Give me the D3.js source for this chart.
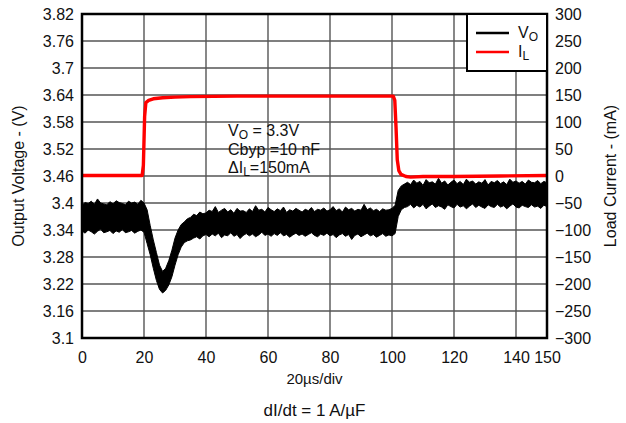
<!DOCTYPE html>
<html>
<head>
  <meta charset="utf-8">
  <script src="https://d3js.org/d3.v7.min.js"></script>
  <style>
    body { margin: 0; background: #fff; font-family: Arial, 'Liberation Sans', sans-serif; }
  </style>
</head>
<body>
<div id="my_dataviz"></div>
<script>
// ---- data ----
var xTicks = [0, 20, 40, 60, 80, 100, 120, 140, 150];
var voltTicks = [3.1, 3.16, 3.22, 3.28, 3.34, 3.4, 3.46, 3.52, 3.58, 3.64, 3.7, 3.76, 3.82];
var voltLabels = ["3.1", "3.16", "3.22", "3.28", "3.34", "3.4", "3.46", "3.52", "3.58", "3.64", "3.7", "3.76", "3.82"];
var currTicks = [-300, -250, -200, -150, -100, -50, 0, 50, 100, 150, 200, 250, 300];

// V_O noise envelope, one sample per microsecond (t = 0 .. 150)
var voUpper = [
  3.395, 3.401, 3.399, 3.404, 3.397, 3.409, 3.400, 3.398, 3.396, 3.403,
  3.398, 3.405, 3.401, 3.399, 3.396, 3.404, 3.400, 3.402, 3.397, 3.406,
  3.400, 3.385, 3.350, 3.318, 3.290, 3.262, 3.248, 3.255, 3.272, 3.295,
  3.322, 3.340, 3.352, 3.358, 3.365, 3.368, 3.375, 3.372, 3.380, 3.376,
  3.378, 3.384, 3.381, 3.392, 3.379, 3.384, 3.388, 3.380, 3.385, 3.377,
  3.388, 3.382, 3.383, 3.379, 3.387, 3.381, 3.394, 3.384, 3.386, 3.380,
  3.390, 3.385, 3.381, 3.387, 3.383, 3.391, 3.379, 3.385, 3.382, 3.388,
  3.384, 3.380, 3.386, 3.383, 3.390, 3.381, 3.386, 3.384, 3.389, 3.382,
  3.385, 3.392, 3.383, 3.387, 3.380, 3.391, 3.385, 3.388, 3.382, 3.386,
  3.384, 3.397, 3.385, 3.389, 3.383, 3.386, 3.381, 3.387, 3.384, 3.385,
  3.388, 3.395, 3.428, 3.438, 3.442,
  3.446, 3.441, 3.451, 3.444, 3.448, 3.439, 3.452, 3.445, 3.447, 3.442,
  3.455, 3.444, 3.449, 3.440, 3.446, 3.451, 3.443, 3.448, 3.441, 3.453,
  3.446, 3.449, 3.442, 3.447, 3.444, 3.452, 3.440, 3.448, 3.445, 3.450,
  3.443, 3.447, 3.441, 3.453, 3.446, 3.449, 3.444, 3.448, 3.442, 3.451,
  3.446, 3.445, 3.450, 3.443, 3.448, 3.445
];
var voLower = [
  3.338, 3.333, 3.340, 3.336, 3.331, 3.337, 3.342, 3.334, 3.336, 3.339,
  3.332, 3.338, 3.335, 3.341, 3.334, 3.336, 3.339, 3.333, 3.337, 3.340,
  3.335, 3.310, 3.285, 3.255, 3.228, 3.208, 3.200, 3.206, 3.218, 3.236,
  3.262, 3.285, 3.302, 3.312, 3.316, 3.318, 3.322, 3.325, 3.320, 3.327,
  3.330, 3.325, 3.331, 3.327, 3.333, 3.323, 3.329, 3.327, 3.334, 3.326,
  3.330, 3.321, 3.328, 3.332, 3.327, 3.331, 3.325, 3.329, 3.335, 3.328,
  3.331, 3.326, 3.332, 3.328, 3.334, 3.327, 3.330, 3.324, 3.329, 3.333,
  3.328, 3.331, 3.326, 3.330, 3.334, 3.328, 3.325, 3.331, 3.328, 3.333,
  3.327, 3.330, 3.323, 3.329, 3.332, 3.326, 3.330, 3.319, 3.328, 3.331,
  3.325, 3.329, 3.333, 3.327, 3.330, 3.324, 3.328, 3.332, 3.326, 3.329,
  3.327, 3.332, 3.370, 3.385, 3.390,
  3.392, 3.397, 3.389, 3.395, 3.391, 3.397, 3.387, 3.393, 3.398, 3.390,
  3.394, 3.391, 3.386, 3.396, 3.392, 3.389, 3.397, 3.391, 3.394, 3.387,
  3.393, 3.398, 3.390, 3.395, 3.391, 3.388, 3.396, 3.392, 3.390, 3.397,
  3.391, 3.394, 3.387, 3.393, 3.398, 3.391, 3.389, 3.395, 3.392, 3.390,
  3.396, 3.391, 3.393, 3.388, 3.395, 3.392
];

// I_L trace (time in us, current in mA)
var ilTime = [0, 10, 19.4, 19.8, 20.2, 20.6, 21.5, 23, 26, 30, 35, 50, 70, 90, 100.4,
              100.9, 101.3, 101.7, 102.2, 102.9, 104.5, 106, 110, 120, 135, 150];
var ilCurrent = [1, 1, 1, 20, 110, 136, 140, 143, 145, 146, 147, 148, 148, 148, 148,
                 140, 90, 30, 10, 3, -1, -2, -1, -1, 0, 1];

// ---- layout ----
var margin = {top: 14, right: 79, bottom: 85, left: 82},
    width = 626 - margin.left - margin.right,
    height = 423 - margin.top - margin.bottom;

var root = d3.select("#my_dataviz")
  .append("svg")
  .attr("width", 626)
  .attr("height", 423);

var svg = root.append("g")
  .attr("transform", "translate(" + margin.left + "," + margin.top + ")");

var x = d3.scaleLinear().domain([0, 150]).range([0, width]);
var yV = d3.scaleLinear().domain([3.1, 3.82]).range([height, 0]);
var yI = d3.scaleLinear().domain([-300, 300]).range([height, 0]);

// grid
svg.append("g")
  .selectAll("line.vg")
  .data(xTicks.filter(function (d) { return d > 0 && d < 150; }))
  .enter().append("line")
  .attr("x1", function (d) { return x(d); })
  .attr("x2", function (d) { return x(d); })
  .attr("y1", 0).attr("y2", height)
  .attr("stroke", "#555").attr("stroke-width", 1.4);

svg.append("g")
  .selectAll("line.hg")
  .data(voltTicks.slice(1, -1))
  .enter().append("line")
  .attr("x1", 0).attr("x2", width)
  .attr("y1", function (d) { return yV(d); })
  .attr("y2", function (d) { return yV(d); })
  .attr("stroke", "#555").attr("stroke-width", 1.4);

// axes (labels only, frame drawn separately)
var axL = svg.append("g")
  .call(d3.axisLeft(yV).tickValues(voltTicks).tickSize(0).tickPadding(8)
    .tickFormat(function (d, i) { return voltLabels[i]; }));
var axR = svg.append("g")
  .attr("transform", "translate(" + width + ",0)")
  .call(d3.axisRight(yI).tickValues(currTicks).tickSize(0).tickPadding(8));
var axB = svg.append("g")
  .attr("transform", "translate(0," + height + ")")
  .call(d3.axisBottom(x).tickValues(xTicks).tickSize(0).tickPadding(14));
[axL, axR, axB].forEach(function (a) {
  a.select(".domain").remove();
  a.selectAll("text")
    .style("font-family", "Arial, 'Liberation Sans', sans-serif")
    .style("font-size", "16px")
    .attr("fill", "#111");
});

// V_O noisy band
var tIdx = voUpper.map(function (d, i) { return i; });
var band = d3.area()
  .x(function (i) { return x(i); })
  .y0(function (i) { return yV(voLower[i]); })
  .y1(function (i) { return yV(voUpper[i]); });
svg.append("path")
  .datum(tIdx)
  .attr("d", band)
  .attr("fill", "#000")
  .attr("stroke", "#000")
  .attr("stroke-width", 1);

// I_L line
var ilLine = d3.line()
  .x(function (i) { return x(ilTime[i]); })
  .y(function (i) { return yI(ilCurrent[i]); });
svg.append("path")
  .datum(ilTime.map(function (d, i) { return i; }))
  .attr("d", ilLine)
  .attr("fill", "none")
  .attr("stroke", "#ff0000")
  .attr("stroke-width", 3.4)
  .attr("stroke-linejoin", "round");

// frame
svg.append("rect")
  .attr("x", 0).attr("y", 0)
  .attr("width", width).attr("height", height)
  .attr("fill", "none")
  .attr("stroke", "#000")
  .attr("stroke-width", 2.5);

// legend
var leg = svg.append("g").attr("transform", "translate(" + (width - 80) + ",0)");
leg.append("rect")
  .attr("width", 80).attr("height", 57)
  .attr("fill", "#fff").attr("stroke", "#000").attr("stroke-width", 2);
var legItems = [
  {name: "V", sub: "O", color: "#000", y: 19},
  {name: "I", sub: "L", color: "#ff0000", y: 38}
];
legItems.forEach(function (d) {
  leg.append("line")
    .attr("x1", 9).attr("x2", 42)
    .attr("y1", d.y).attr("y2", d.y)
    .attr("stroke", d.color).attr("stroke-width", 2.5);
  var t = leg.append("text")
    .attr("x", 51).attr("y", d.y + 5)
    .style("font-size", "16px").attr("fill", "#111");
  t.append("tspan").text(d.name);
  t.append("tspan").attr("dy", 3).style("font-size", "12px").text(d.sub);
});

// annotation
var ann = svg.append("g").attr("transform", "translate(146,0)")
  .style("font-size", "16px").attr("fill", "#111");
var a1 = ann.append("text").attr("y", 122);
a1.append("tspan").text("V");
a1.append("tspan").attr("dy", 3).style("font-size", "12px").text("O");
a1.append("tspan").attr("dy", -3).text(" = 3.3V");
ann.append("text").attr("y", 141).text("Cbyp =10 nF");
var a3 = ann.append("text").attr("y", 159);
a3.append("tspan").text("\u0394I");
a3.append("tspan").attr("dy", 3).style("font-size", "12px").text("L");
a3.append("tspan").attr("dy", -3).text("=150mA");

// axis titles
root.append("text")
  .attr("transform", "rotate(-90)")
  .attr("x", -(margin.top + height / 2))
  .attr("y", 24)
  .style("text-anchor", "middle")
  .style("font-size", "16px").attr("fill", "#111")
  .text("Output Voltage - (V)");

root.append("text")
  .attr("transform", "rotate(-90)")
  .attr("x", -(margin.top + height / 2))
  .attr("y", 616)
  .style("text-anchor", "middle")
  .style("font-size", "16px").attr("fill", "#111")
  .text("Load Current - (mA)");

root.append("text")
  .attr("x", margin.left + width / 2)
  .attr("y", 384)
  .style("text-anchor", "middle")
  .style("font-size", "15px").attr("fill", "#111")
  .text("20\u00b5s/div");

root.append("text")
  .attr("x", margin.left + width / 2)
  .attr("y", 416)
  .style("text-anchor", "middle")
  .style("font-size", "17px").attr("fill", "#111")
  .text("dI/dt = 1 A/\u00b5F");
</script>
</body>
</html>
